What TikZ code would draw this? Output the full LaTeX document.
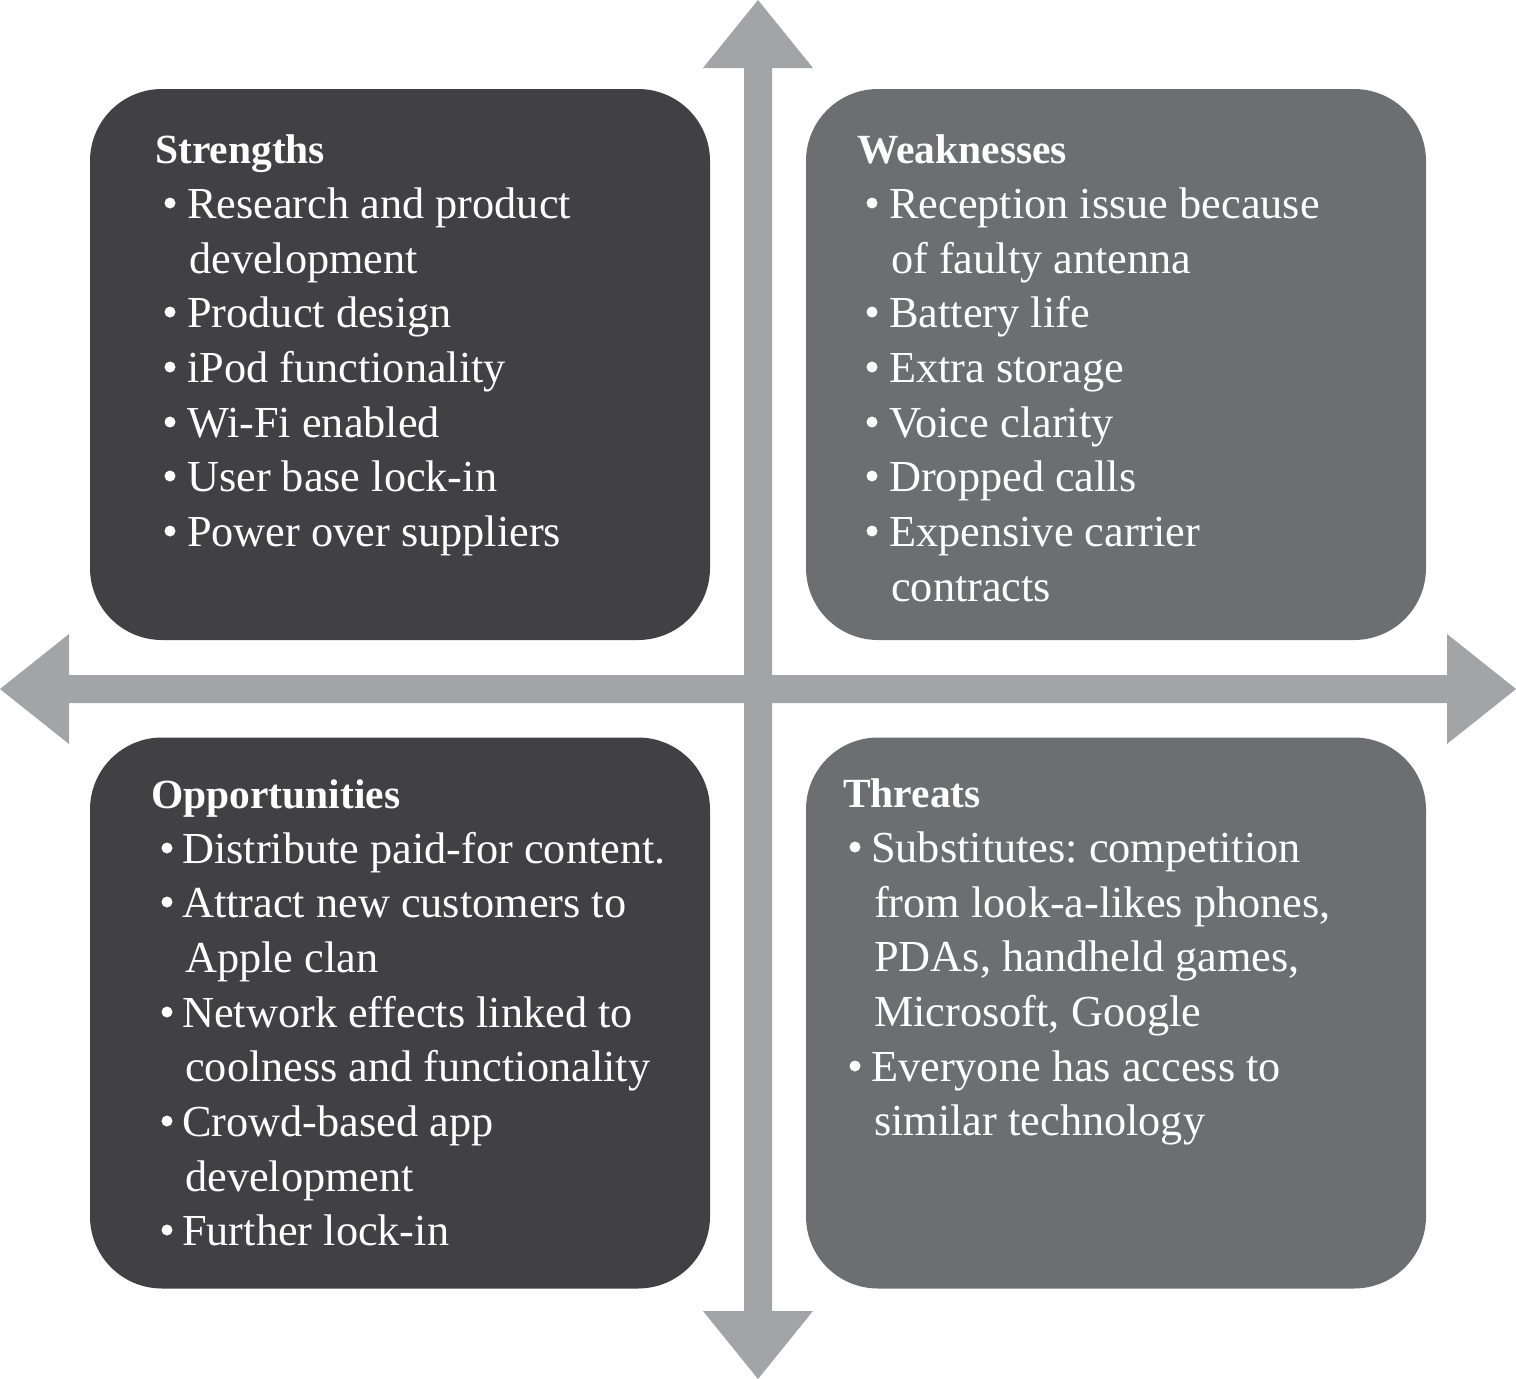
\documentclass[tikz,border=0pt]{standalone}
\usepackage{fontspec}
\setmainfont{Liberation Serif}
\definecolor{darkbox}{RGB}{65,64,66}
\definecolor{lightbox}{RGB}{109,110,113}
\definecolor{arrowc}{RGB}{163,164,168}
\frenchspacing
\begin{document}
\begin{tikzpicture}[x=1pt,y=-1pt,
  box/.style={rectangle,rounded corners=72pt,minimum width=620pt,minimum height=551pt,inner sep=0pt,draw=none},
  txt/.style={anchor=base west,inner sep=0pt,text=white,font=\fontsize{44.3}{55}\selectfont},
  hd/.style={anchor=base west,inner sep=0pt,text=white,font=\fontsize{41.5}{55}\selectfont\bfseries},
  dot/.style={fill=white}]
\useasboundingbox (0,0) rectangle (1516,1379);
% arrows
\fill[arrowc] (758,0) -- (813,68) -- (772,68) -- (772,1311) -- (813,1311) -- (758,1379) -- (703,1311) -- (744,1311) -- (744,68) -- (703,68) -- cycle;
\fill[arrowc] (0,689) -- (69,634) -- (69,675) -- (1447,675) -- (1447,634) -- (1516,689) -- (1447,744) -- (1447,703) -- (69,703) -- (69,744) -- cycle;
% boxes
\node[box,fill=darkbox] (S) at (400,364.5) {};
\node[box,fill=lightbox] (W) at (1116,364.5) {};
\node[box,fill=darkbox] (O) at (400,1013) {};
\node[box,fill=lightbox] (T) at (1116,1013) {};
% Strengths
\node[hd] (s0) at (155,163) {Strengths};
\node[txt] (s1) at (187,218) {Research and product};
\node[txt] (s2) at (189,273) {development};
\node[txt] (s3) at (187,327) {Product design};
\node[txt] (s4) at (187,382) {iPod functionality};
\node[txt] (s5) at (187,437) {Wi-Fi enabled};
\node[txt] (s6) at (187,491) {User base lock-in};
\node[txt] (s7) at (187,546) {Power over suppliers};
\foreach \y in {218,327,382,437,491,546} \fill[dot] (170,\y-15) circle (5.5);
% Weaknesses
\node[hd] (w0) at (857,163) {Weaknesses};
\node[txt] (w1) at (889,218) {Reception issue because};
\node[txt] (w2) at (891,273) {of faulty antenna};
\node[txt] (w3) at (889,327) {Battery life};
\node[txt] (w4) at (889,382) {Extra storage};
\node[txt] (w5) at (889,437) {Voice clarity};
\node[txt] (w6) at (889,491) {Dropped calls};
\node[txt] (w7) at (889,546) {Expensive carrier};
\node[txt] (w8) at (891,601) {contracts};
\foreach \y in {218,327,382,437,491,546} \fill[dot] (872,\y-15) circle (5.5);
% Opportunities
\node[hd] (o0) at (151,808) {Opportunities};
\node[txt] (o1) at (182,863) {Distribute paid-for content.};
\node[txt] (o2) at (182,917) {Attract new customers to};
\node[txt] (o3) at (185,972) {Apple clan};
\node[txt] (o4) at (182,1027) {Network effects linked to};
\node[txt] (o5) at (185,1081) {coolness and functionality};
\node[txt] (o6) at (182,1136) {Crowd-based app};
\node[txt] (o7) at (185,1191) {development};
\node[txt] (o8) at (182,1245) {Further lock-in};
\foreach \y in {863,917,1027,1136,1245} \fill[dot] (167,\y-15) circle (5.5);
% Threats
\node[hd] (t0) at (843,807) {Threats};
\node[txt] (t1) at (871,862) {Substitutes: competition};
\node[txt] (t2) at (874,917) {from look-a-likes phones,};
\node[txt] (t3) at (874,971) {PDAs, handheld games,};
\node[txt] (t4) at (874,1026) {Microsoft, Google};
\node[txt] (t5) at (871,1081) {Everyone has access to};
\node[txt] (t6) at (874,1135) {similar technology};
\foreach \y in {862,1081} \fill[dot] (855,\y-15) circle (5.5);
\end{tikzpicture}
\end{document}
